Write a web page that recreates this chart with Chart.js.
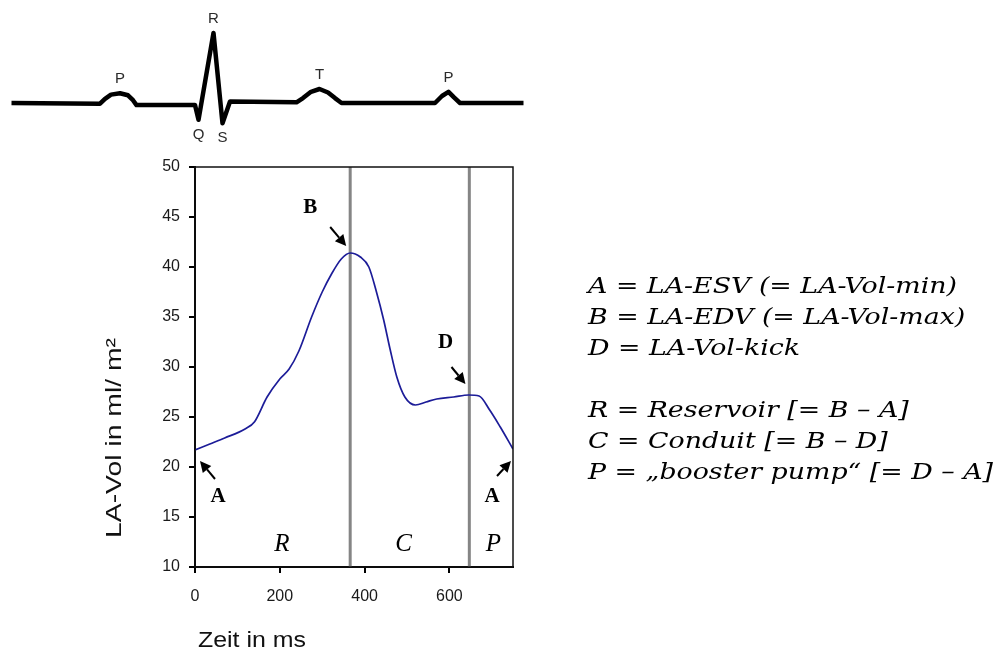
<!DOCTYPE html>
<html>
<head>
<meta charset="utf-8">
<script src="https://cdn.jsdelivr.net/npm/chart.js@4/dist/chart.umd.min.js"></script>
<style>
  html, body { margin: 0; padding: 0; background: #fff; }
  #wrap { position: relative; width: 1000px; height: 656px; }
  #volChart { position: absolute; left: 0; top: 0; }
  #ecgChart { position: absolute; left: 0; top: 0; }
</style>
</head>
<body>
<div id="wrap">
  <canvas id="volChart" width="1000" height="656"></canvas>
  <canvas id="ecgChart" width="540" height="160"></canvas>
</div>
<script>
// LA volume over one cycle (ms, ml/m2)
var volTime  = [0, 35, 70, 118, 140, 170, 200, 222, 245, 275, 300, 322, 345, 366, 390, 410, 428, 445, 460, 476, 495, 520, 545, 570, 610, 645, 670, 695, 720, 750];
var volValue = [21.7, 22.3, 22.9, 23.8, 24.5, 27.0, 28.8, 29.8, 31.6, 35.0, 37.5, 39.3, 40.8, 41.4, 41.0, 40.0, 37.5, 34.7, 31.8, 29.0, 27.0, 26.2, 26.5, 26.8, 27.0, 27.2, 27.1, 25.7, 24.0, 21.8];

// phase borders: end of reservoir, end of conduit
var phaseBounds = [366, 647];
var phaseNames  = ["R", "C", "P"];
var phaseLabelAt = [205, 492, 704];

var xTicks = [0, 200, 400, 600];
var yTicks = [10, 15, 20, 25, 30, 35, 40, 45, 50];

// schematic ECG trace (ms, mV)
var ecgTime = [23, 200, 210, 222, 240, 256, 266, 273, 390, 397, 427, 445, 460, 593, 606, 622, 639, 656, 670, 683, 870, 884, 897, 908, 920, 1047];
var ecgAmp  = [0, -0.01, 0.06, 0.12, 0.14, 0.11, 0.04, -0.03, -0.03, -0.24, 1.0, -0.29, 0.02, 0.01, 0.07, 0.16, 0.2, 0.15, 0.07, 0.0, 0.0, 0.1, 0.16, 0.08, 0.0, 0.0];
var ecgWaves  = ["P", "Q", "R", "S", "T", "P"];
var ecgWaveAt = [4, 9, 10, 11, 16, 22];

var defLines = [
  "A = LA-ESV (= LA-Vol-min)",
  "B = LA-EDV (= LA-Vol-max)",
  "D = LA-Vol-kick",
  "",
  "R = Reservoir [= B \u2013 A]",
  "C = Conduit [= B \u2013 D]",
  "P = \u201Ebooster pump\u201C [= D \u2013 A]"
];

function toXY(xs, ys) {
  return xs.map(function (v, i) { return { x: v, y: ys[i] }; });
}

// squeeze/stretch text horizontally to a given width
function fitText(ctx, str, x, y, width) {
  var w = ctx.measureText(str).width;
  ctx.save();
  ctx.translate(x, y);
  ctx.scale(width / w, 1);
  ctx.fillText(str, 0, 0);
  ctx.restore();
}

function arrow(ctx, x0, y0, x1, y1) {
  var ang = Math.atan2(y1 - y0, x1 - x0);
  var hl = 11, hw = 5.5;
  var bx = x1 - hl * Math.cos(ang), by = y1 - hl * Math.sin(ang);
  ctx.lineWidth = 2;
  ctx.beginPath();
  ctx.moveTo(x0, y0);
  ctx.lineTo(bx, by);
  ctx.stroke();
  ctx.beginPath();
  ctx.moveTo(x1, y1);
  ctx.lineTo(bx + hw * Math.sin(ang), by - hw * Math.cos(ang));
  ctx.lineTo(bx - hw * Math.sin(ang), by + hw * Math.cos(ang));
  ctx.closePath();
  ctx.fill();
}

// marked points: index into volume data, label / arrow offsets in px
var marks = [
  { name: "A", idx: 0, tip: [5, 11], tail: [20, 29], label: [23, 47] },
  { name: "B", idx: 13, tip: [-4, -7], tail: [-20, -26], label: [-40, -45] },
  { name: "D", idx: 25, tip: [-3, -11], tail: [-17, -28], label: [-23, -52] },
  { name: "A", idx: volTime.length - 1, tip: [-2, 12], tail: [-16, 27], label: [-21, 48] }
];

var notes = {
  id: "notes",
  afterDatasetsDraw: function (chart) {
    var ctx = chart.ctx, a = chart.chartArea;
    var x = chart.scales.x, y = chart.scales.y;
    ctx.save();

    // frame round the plot
    ctx.strokeStyle = "#111";
    ctx.lineWidth = 1.5;
    ctx.strokeRect(a.left, a.top, a.right - a.left, a.bottom - a.top);

    // A, B, D markers
    ctx.fillStyle = "#000";
    ctx.strokeStyle = "#000";
    ctx.textAlign = "center";
    ctx.textBaseline = "middle";
    ctx.font = "bold 21px 'Liberation Serif', serif";
    marks.forEach(function (m) {
      var px = x.getPixelForValue(volTime[m.idx]);
      var py = y.getPixelForValue(volValue[m.idx]);
      arrow(ctx, px + m.tail[0], py + m.tail[1], px + m.tip[0], py + m.tip[1]);
      ctx.fillText(m.name, px + m.label[0], py + m.label[1]);
    });

    // phase letters
    ctx.font = "italic 25px 'Liberation Serif', serif";
    phaseNames.forEach(function (n, i) {
      ctx.fillText(n, x.getPixelForValue(phaseLabelAt[i]), y.getPixelForValue(12.3));
    });

    // axis titles
    ctx.fillStyle = "#111";
    ctx.font = "22px 'Liberation Sans', Arial, sans-serif";
    ctx.textAlign = "left";
    fitText(ctx, "Zeit in ms", 198, 641, 108);
    ctx.save();
    ctx.translate(115, 438);
    ctx.rotate(-Math.PI / 2);
    ctx.textAlign = "center";
    fitText(ctx, "LA-Vol in ml/ m\u00B2", 0, 0, 200);
    ctx.restore();

    // definitions on the right
    ctx.fillStyle = "#000";
    ctx.textAlign = "left";
    ctx.font = "italic 23px 'DejaVu Serif', serif";
    var k = 369 / ctx.measureText(defLines[0]).width;
    defLines.forEach(function (s, i) {
      if (!s) return;
      fitText(ctx, s, 588, 287 + i * 31, ctx.measureText(s).width * k);
    });
    ctx.restore();
  }
};

var volDatasets = [{
  data: toXY(volTime, volValue),
  borderColor: "#1c1c98",
  borderWidth: 1.7,
  pointRadius: 0,
  cubicInterpolationMode: "monotone"
}];
phaseBounds.forEach(function (t) {
  volDatasets.push({
    data: [{ x: t, y: 10 }, { x: t, y: 50 }],
    borderColor: "#858585",
    borderWidth: 3,
    pointRadius: 0
  });
});

var axisFont = { family: "'Liberation Sans', Arial, sans-serif", size: 16 };

new Chart(document.getElementById("volChart"), {
  type: "line",
  data: { datasets: volDatasets },
  options: {
    responsive: false,
    animation: false,
    devicePixelRatio: 1,
    layout: { padding: { left: 155, top: 167, right: 487, bottom: 39 } },
    plugins: { legend: { display: false }, tooltip: { enabled: false } },
    scales: {
      x: {
        type: "linear",
        min: 0,
        max: 750,
        afterBuildTicks: function (s) { s.ticks = xTicks.map(function (v) { return { value: v }; }); },
        afterFit: function (s) { s.height = 50; },
        grid: { drawOnChartArea: false, drawTicks: true, tickLength: 6, color: "#000", lineWidth: 2 },
        border: { display: true, color: "#000", width: 2 },
        ticks: { color: "#1a1a1a", font: axisFont, padding: 14, maxRotation: 0 }
      },
      y: {
        type: "linear",
        min: 10,
        max: 50,
        afterBuildTicks: function (s) { s.ticks = yTicks.map(function (v) { return { value: v }; }); },
        afterFit: function (s) { s.width = 40; },
        grid: { drawOnChartArea: false, drawTicks: true, tickLength: 6, color: "#000", lineWidth: 2 },
        border: { display: true, color: "#000", width: 2 },
        ticks: { color: "#1a1a1a", font: axisFont, padding: 9 }
      }
    }
  },
  plugins: [notes]
});

// ECG strip above the plot
var waveLabels = {
  id: "waveLabels",
  afterDatasetsDraw: function (chart) {
    var ctx = chart.ctx;
    var x = chart.scales.x, y = chart.scales.y;
    ctx.save();
    ctx.fillStyle = "#2a2a2a";
    ctx.font = "15px 'Liberation Sans', Arial, sans-serif";
    ctx.textAlign = "center";
    ctx.textBaseline = "middle";
    ecgWaves.forEach(function (w, i) {
      var j = ecgWaveAt[i];
      var py = y.getPixelForValue(ecgAmp[j]);
      var off = ecgAmp[j] < 0 ? 15 : -14;
      ctx.fillText(w, x.getPixelForValue(ecgTime[j]), py + off);
    });
    ctx.restore();
  }
};

new Chart(document.getElementById("ecgChart"), {
  type: "line",
  data: {
    datasets: [{
      data: toXY(ecgTime, ecgAmp),
      borderColor: "#000",
      borderWidth: 4.5,
      borderJoinStyle: "round",
      pointRadius: 0,
      tension: 0
    }]
  },
  options: {
    responsive: false,
    animation: false,
    devicePixelRatio: 1,
    layout: { padding: 0 },
    plugins: { legend: { display: false }, tooltip: { enabled: false } },
    scales: {
      x: { type: "linear", display: false, min: 0, max: 1080 },
      y: { type: "linear", display: false, min: -0.814, max: 1.471 }
    }
  },
  plugins: [waveLabels]
});
</script>
</body>
</html>
